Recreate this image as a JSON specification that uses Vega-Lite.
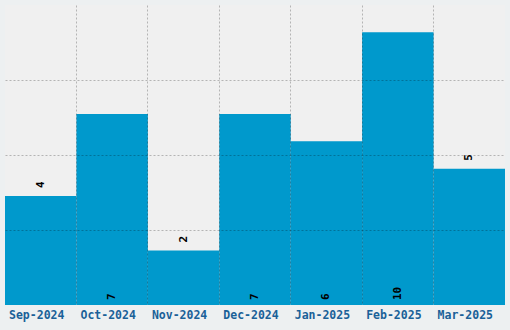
{
  "$schema": "https://vega.github.io/schema/vega-lite/v6.json",
  "width": 500,
  "height": 300,
  "autosize": {"type": "none"},
  "padding": {"left": 5, "top": 5, "right": 5, "bottom": 25},
  "background": "#edf0f1",
  "config": {"view": {"fill": "#f0f0f0", "stroke": null}},
  "data": {"values": [
    {"month": "Sep-2024", "value": 4},
    {"month": "Oct-2024", "value": 7},
    {"month": "Nov-2024", "value": 2},
    {"month": "Dec-2024", "value": 7},
    {"month": "Jan-2025", "value": 6},
    {"month": "Feb-2025", "value": 10},
    {"month": "Mar-2025", "value": 5}
  ]},
  "encoding": {
    "x": {"field": "month", "type": "nominal", "sort": null,
      "scale": {"paddingInner": 0, "paddingOuter": 0},
      "axis": {"title": null, "domain": false, "ticks": false, "labelAngle": 0,
        "labelFont": "DejaVu Sans Mono", "labelFontWeight": "bold", "labelFontSize": 11.5,
        "labelColor": "#1a6198", "labelPadding": 4, "labelOffset": -4,
        "grid": true, "bandPosition": 0, "gridColor": "#000", "gridDash": [2, 2],
        "gridOpacity": {"condition": {"test": "datum.index == 0", "value": 0}, "value": 0.25},
        "zindex": 1}}
  },
  "layer": [
    {"mark": {"type": "bar", "color": "#0099cc"},
     "encoding": {"y": {"field": "value", "type": "quantitative",
       "scale": {"domain": [0, 11], "nice": false},
       "axis": {"title": null, "labels": false, "domain": false, "ticks": false,
         "values": [2.75, 5.5, 8.25], "gridColor": "#000", "gridOpacity": 0.25,
         "gridDash": [2, 2], "zindex": 1}}}},
    {"transform": [{"filter": "datum.value <= 5"}],
     "mark": {"type": "text", "angle": 270, "align": "left", "baseline": "middle", "dx": 8,
       "font": "DejaVu Sans Mono", "fontWeight": "bold", "fontSize": 11, "color": "#000"},
     "encoding": {"y": {"field": "value", "type": "quantitative"}, "text": {"field": "value"}}},
    {"transform": [{"filter": "datum.value > 5"}],
     "mark": {"type": "text", "angle": 270, "align": "left", "baseline": "middle", "dx": 5,
       "font": "DejaVu Sans Mono", "fontWeight": "bold", "fontSize": 11, "color": "#000"},
     "encoding": {"y": {"datum": 0, "type": "quantitative"}, "text": {"field": "value"}}}
  ]
}
